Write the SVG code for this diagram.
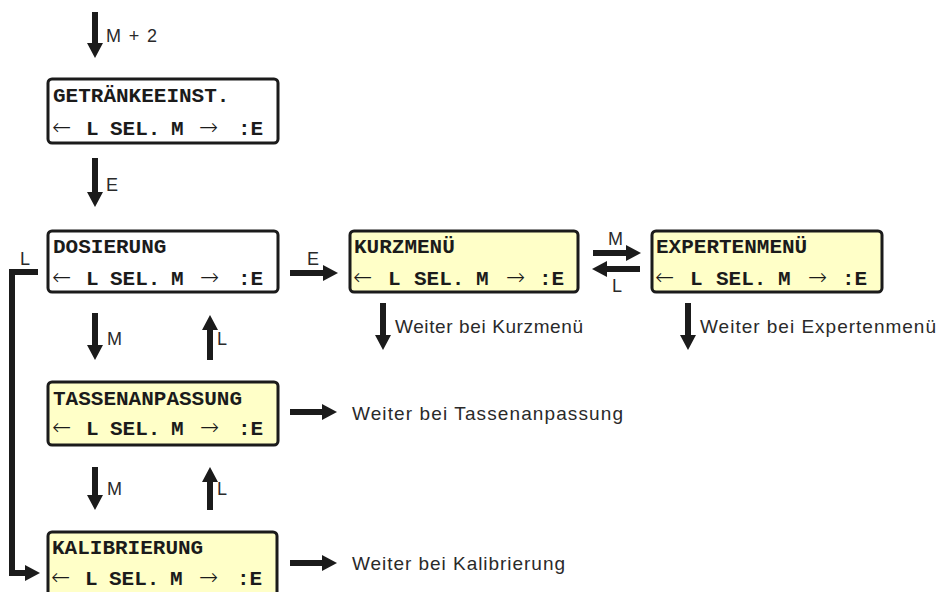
<svg xmlns="http://www.w3.org/2000/svg" width="938" height="592" viewBox="0 0 938 592">
  <style>
    .box { stroke: #1b1b1b; stroke-width: 3; }
    .w { fill: #ffffff; }
    .y { fill: #ffffc8; }
    .t { font-family: "Liberation Mono", "Courier New", monospace; font-weight: bold; font-size: 21px; fill: #1b1b1b; }
    .ar { font-family: "DejaVu Sans", "Liberation Sans", sans-serif; font-weight: 200; font-size: 23px; fill: #1b1b1b; }
    .lbl { font-family: "Liberation Sans", Arial, sans-serif; font-size: 18px; fill: #2a2a2a; }
    .note { font-family: "Liberation Sans", Arial, sans-serif; font-size: 19px; fill: #2a2a2a; }
    .shaft { stroke: #1b1b1b; stroke-width: 6; fill: none; marker-end: url(#head); }
    .loop { stroke: #1b1b1b; stroke-width: 6; fill: none; stroke-linejoin: miter; marker-end: url(#head); }
  </style>
  <defs>
    <marker id="head" markerUnits="userSpaceOnUse" viewBox="0 0 15 16" refX="2" refY="8" markerWidth="15" markerHeight="16" orient="auto">
      <path d="M0,0 L15,8 L0,16 Z" fill="#1b1b1b"/>
    </marker>
  </defs>

  <rect width="938" height="592" fill="#ffffff"/>

  <!-- menu display nodes -->
  <g id="getraenkeeinst">
    <rect class="box w" x="48" y="79" width="230" height="64" rx="4"/>
    <text class="t" x="53" y="102">GETRÄNKEEINST.</text>
    <text class="ar" x="52" y="135">←</text>
    <text class="t" x="86" y="135">L</text>
    <text class="t" x="110" y="135">SEL.</text>
    <text class="t" x="171" y="135">M</text>
    <text class="ar" x="199" y="135">→</text>
    <text class="t" x="238" y="135">:E</text>
  </g>

  <g id="dosierung">
    <rect class="box w" x="48" y="231" width="230" height="61" rx="4"/>
    <text class="t" x="53" y="253">DOSIERUNG</text>
    <text class="ar" x="52" y="285">←</text>
    <text class="t" x="86" y="285">L</text>
    <text class="t" x="110" y="285">SEL.</text>
    <text class="t" x="171" y="285">M</text>
    <text class="ar" x="200" y="285">→</text>
    <text class="t" x="238" y="285">:E</text>
  </g>

  <g id="kurzmenue">
    <rect class="box y" x="350" y="231" width="228" height="61" rx="4"/>
    <text class="t" x="354" y="253">KURZMENÜ</text>
    <text class="ar" x="353" y="285">←</text>
    <text class="t" x="388" y="285">L</text>
    <text class="t" x="414" y="285">SEL.</text>
    <text class="t" x="476" y="285">M</text>
    <text class="ar" x="506" y="285">→</text>
    <text class="t" x="539" y="285">:E</text>
  </g>

  <g id="expertenmenue">
    <rect class="box y" x="652" y="231" width="230" height="61" rx="4"/>
    <text class="t" x="656" y="253">EXPERTENMENÜ</text>
    <text class="ar" x="655" y="285">←</text>
    <text class="t" x="690" y="285">L</text>
    <text class="t" x="716" y="285">SEL.</text>
    <text class="t" x="778" y="285">M</text>
    <text class="ar" x="808" y="285">→</text>
    <text class="t" x="842" y="285">:E</text>
  </g>

  <g id="tassenanpassung">
    <rect class="box y" x="48" y="382" width="230" height="63" rx="4"/>
    <text class="t" x="53" y="405">TASSENANPASSUNG</text>
    <text class="ar" x="52" y="435">←</text>
    <text class="t" x="86" y="435">L</text>
    <text class="t" x="110" y="435">SEL.</text>
    <text class="t" x="171" y="435">M</text>
    <text class="ar" x="200" y="435">→</text>
    <text class="t" x="238" y="435">:E</text>
  </g>

  <g id="kalibrierung">
    <rect class="box y" x="48" y="532" width="229" height="70" rx="4"/>
    <text class="t" x="52" y="554">KALIBRIERUNG</text>
    <text class="ar" x="51" y="585">←</text>
    <text class="t" x="85" y="585">L</text>
    <text class="t" x="109" y="585">SEL.</text>
    <text class="t" x="170" y="585">M</text>
    <text class="ar" x="199" y="585">→</text>
    <text class="t" x="237" y="585">:E</text>
  </g>

  <!-- connectors -->
  <g id="connectors">
    <line class="shaft" x1="95" y1="12" x2="95" y2="45"/>
    <line class="shaft" x1="95" y1="158" x2="95" y2="194"/>
    <line class="shaft" x1="95" y1="313" x2="95" y2="347"/>
    <line class="shaft" x1="210" y1="360" x2="210" y2="328"/>
    <line class="shaft" x1="95" y1="467" x2="95" y2="497"/>
    <line class="shaft" x1="210" y1="510" x2="210" y2="480"/>
    <line class="shaft" x1="290" y1="273" x2="325" y2="273"/>
    <line class="shaft" x1="593" y1="253" x2="628" y2="253"/>
    <line class="shaft" x1="640" y1="269" x2="605" y2="269"/>
    <line class="shaft" x1="383" y1="303" x2="383" y2="337"/>
    <line class="shaft" x1="688" y1="303" x2="688" y2="337"/>
    <line class="shaft" x1="290" y1="412" x2="324" y2="412"/>
    <line class="shaft" x1="290" y1="563" x2="324" y2="563"/>
    <polyline class="loop" points="38,272 12,272 12,573 27,573"/>
  </g>

  <!-- key labels and notes -->
  <g id="labels">
    <text class="lbl" x="106" y="42" textLength="51">M + 2</text>
    <text class="lbl" x="106" y="191">E</text>
    <text class="lbl" x="107" y="345">M</text>
    <text class="lbl" x="217" y="345">L</text>
    <text class="lbl" x="107" y="495">M</text>
    <text class="lbl" x="217" y="495">L</text>
    <text class="lbl" x="307" y="265">E</text>
    <text class="lbl" x="608" y="245">M</text>
    <text class="lbl" x="612" y="292">L</text>
    <text class="lbl" x="20" y="265">L</text>
    <text class="note" x="395" y="333" textLength="188">Weiter bei Kurzmenü</text>
    <text class="note" x="700" y="333" textLength="236">Weiter bei Expertenmenü</text>
    <text class="note" x="352" y="420" textLength="271">Weiter bei Tassenanpassung</text>
    <text class="note" x="352" y="570" textLength="213">Weiter bei Kalibrierung</text>
  </g>
</svg>
